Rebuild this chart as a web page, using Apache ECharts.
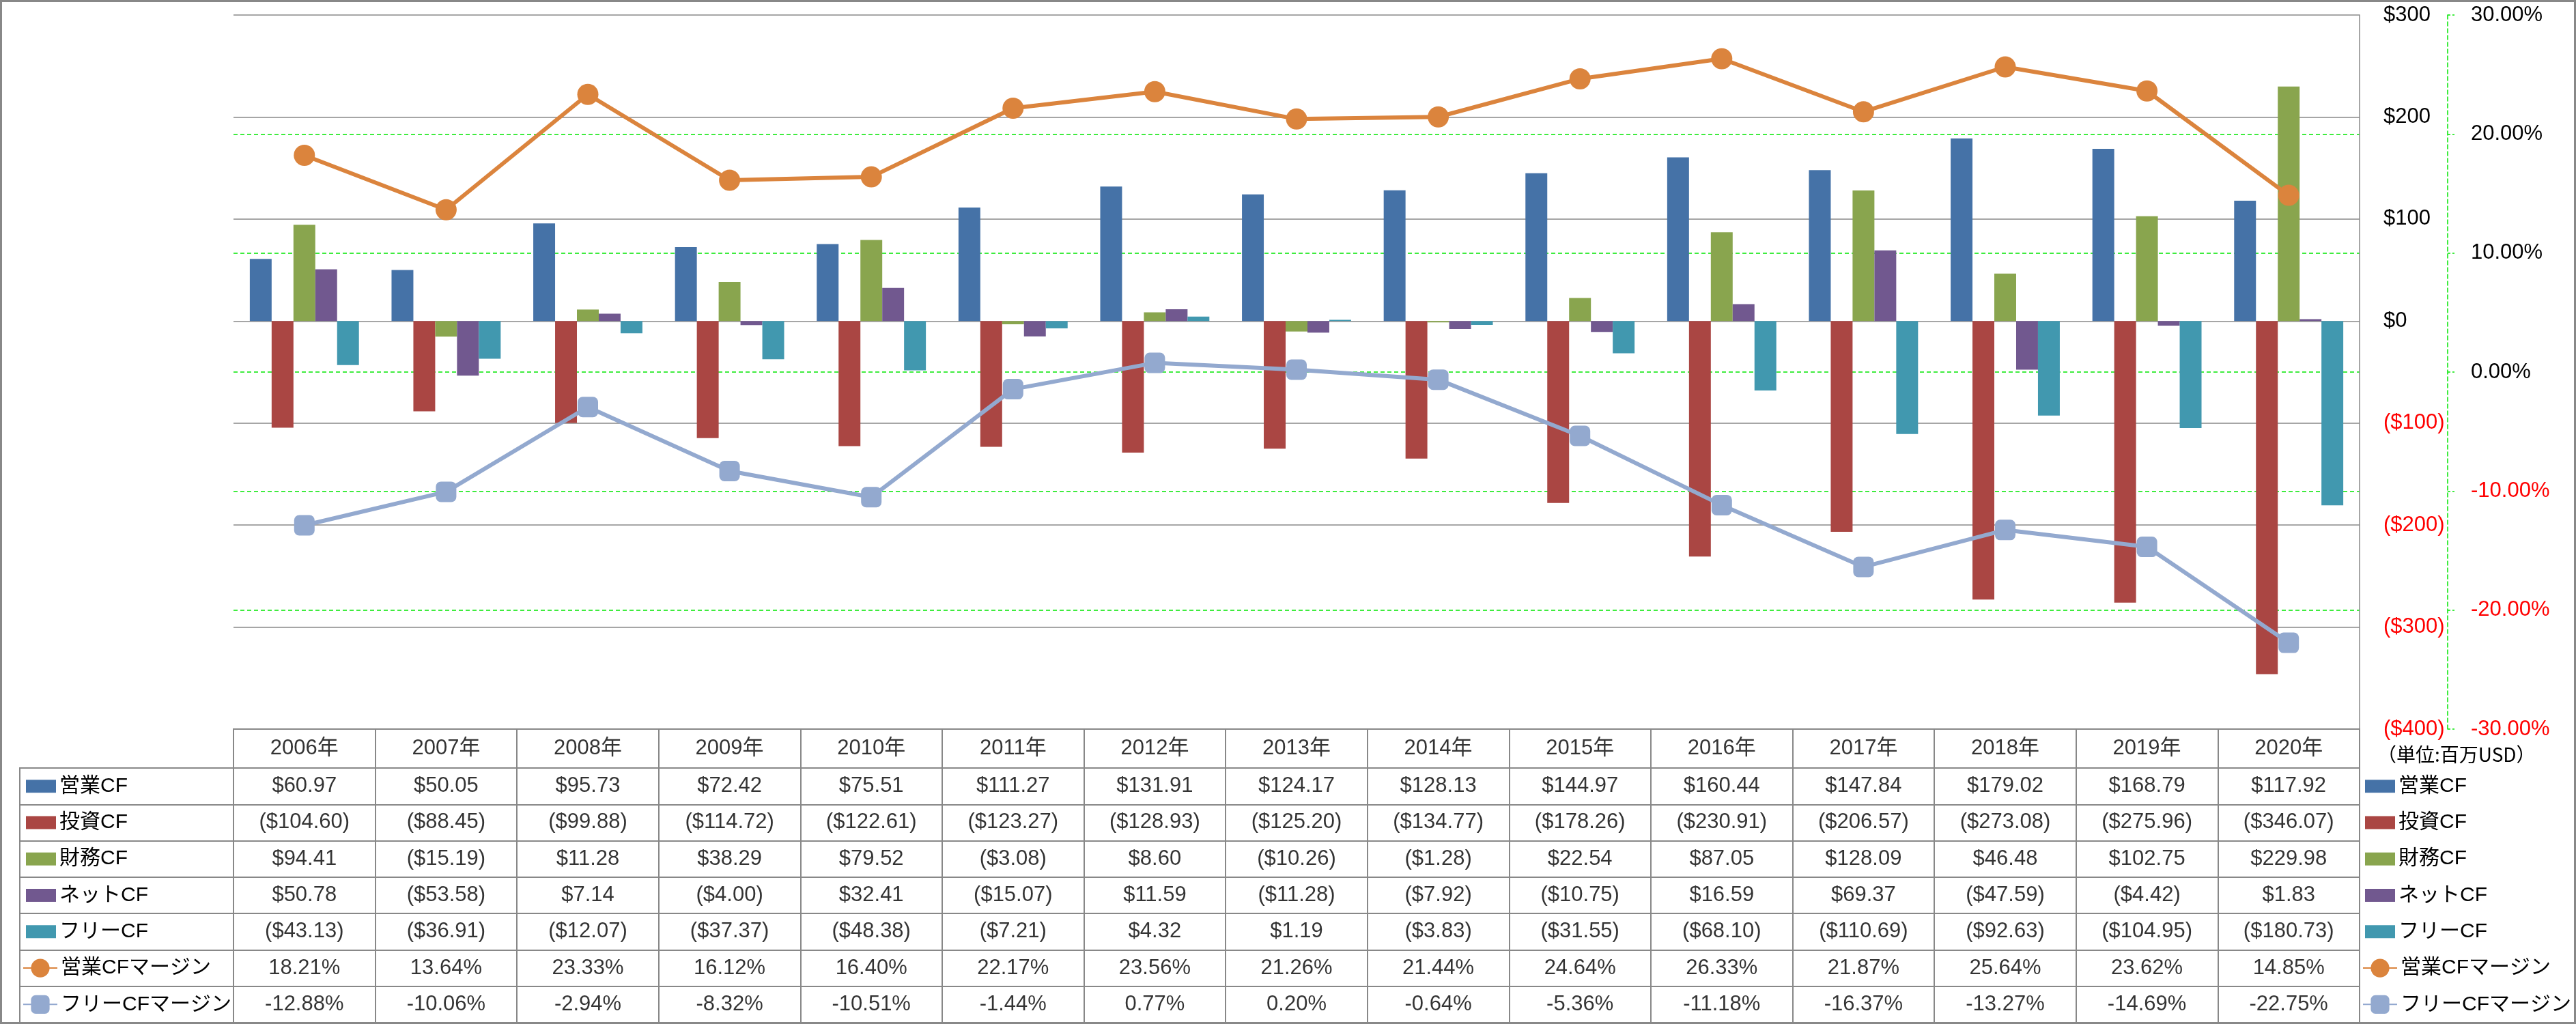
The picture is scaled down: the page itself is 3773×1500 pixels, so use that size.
<!DOCTYPE html>
<html><head><meta charset="utf-8">
<script src="https://cdn.jsdelivr.net/npm/echarts@6/dist/echarts.min.js"></script>
<style>html,body{margin:0;padding:0;background:#fff}#c{width:3773px;height:1500px}</style>
</head><body><div id="c"></div>
<script>
// ---- data ----
const years = ['2006年','2007年','2008年','2009年','2010年','2011年','2012年','2013年','2014年','2015年','2016年','2017年','2018年','2019年','2020年'];
const opCF   = [60.97,50.05,95.73,72.42,75.51,111.27,131.91,124.17,128.13,144.97,160.44,147.84,179.02,168.79,117.92];
const invCF  = [-104.60,-88.45,-99.88,-114.72,-122.61,-123.27,-128.93,-125.20,-134.77,-178.26,-230.91,-206.57,-273.08,-275.96,-346.07];
const finCF  = [94.41,-15.19,11.28,38.29,79.52,-3.08,8.60,-10.26,-1.28,22.54,87.05,128.09,46.48,102.75,229.98];
const netCF  = [50.78,-53.58,7.14,-4.00,32.41,-15.07,11.59,-11.28,-7.92,-10.75,16.59,69.37,-47.59,-4.42,1.83];
const freeCF = [-43.13,-36.91,-12.07,-37.37,-48.38,-7.21,4.32,1.19,-3.83,-31.55,-68.10,-110.69,-92.63,-104.95,-180.73];
const opMargin   = [18.21,13.64,23.33,16.12,16.40,22.17,23.56,21.26,21.44,24.64,26.33,21.87,25.64,23.62,14.85];
const freeMargin = [-12.88,-10.06,-2.94,-8.32,-10.51,-1.44,0.77,0.20,-0.64,-5.36,-11.18,-16.37,-13.27,-14.69,-22.75];
const barNames  = ['営業CF','投資CF','財務CF','ネットCF','フリーCF'];
const lineNames = ['営業CFマージン','フリーCFマージン'];
const dollarAxisLabels = ['($400)','($300)','($200)','($100)','$0','$100','$200','$300'];
const pctAxisLabels = ['-30.00%','-20.00%','-10.00%','0.00%','10.00%','20.00%','30.00%'];
const unitText = '（単位:百万USD）';

// ---- styles ----
const FONT = '"Liberation Sans", "Noto Sans CJK JP", sans-serif';
const GRAY = '#888888';
const GREENL = '#00e600';
const barColors = ['#4572A7','#AA4643','#89A54E','#71588F','#4198AF'];
const lineColors = ['#DB843D','#93A9CF'];
const barData = [opCF, invCF, finCF, netCF, freeCF];
const lineData = [opMargin, freeMargin];
const rowNames = barNames.concat(lineNames);
const rowVals = barData.concat(lineData);

function money(v){ return v < 0 ? '($' + (-v).toFixed(2) + ')' : '$' + v.toFixed(2); }
function pct(v){ return v.toFixed(2) + '%'; }
function cellText(r, c){ const v = rowVals[r][c]; return r < 5 ? money(v) : pct(v); }

const chart = echarts.init(document.getElementById('c'));

const series = [];
barData.forEach((d, i) => {
  series.push({
    name: barNames[i], type: 'bar', xAxisIndex: 0, yAxisIndex: 0, data: d,
    itemStyle: { color: barColors[i] }, barGap: '0%', barCategoryGap: '23%',
    silent: true
  });
});
lineData.forEach((d, i) => {
  series.push({
    name: lineNames[i], type: 'line', xAxisIndex: 0, yAxisIndex: 1, data: d,
    symbol: i === 0 ? 'circle' : 'roundRect', symbolSize: i === 0 ? 31 : 30,
    lineStyle: { color: lineColors[i], width: 6 },
    itemStyle: { color: lineColors[i] }, z: 5, silent: true
  });
});
// table header
series.push({
  type: 'scatter', xAxisIndex: 1, yAxisIndex: 2, silent: true,
  data: years.map((y, i) => [i, 0]), symbolSize: 1,
  itemStyle: { color: 'rgba(0,0,0,0)' },
  label: { show: true, position: 'inside', fontSize: 31, color: '#000', fontFamily: FONT,
           formatter: p => years[p.data[0]] }
});
// table body
const cells = [];
for (let r = 0; r < rowVals.length; r++) for (let c = 0; c < years.length; c++) cells.push([c, r]);
series.push({
  type: 'scatter', xAxisIndex: 2, yAxisIndex: 3, silent: true,
  data: cells, symbolSize: 1,
  itemStyle: { color: 'rgba(0,0,0,0)' },
  label: { show: true, position: 'inside', fontSize: 31, color: '#000', fontFamily: FONT,
           formatter: p => cellText(p.data[1], p.data[0]) }
});

const ROW_TOP = 1125, ROW_H = 373 / 7;
const legText = { fontSize: 30, color: '#000', fontFamily: FONT, lineHeight: ROW_H };
function legend(left, names, w, h, top, icon){
  const o = { orient: 'vertical', left: left, top: top, itemGap: 0, padding: 0,
    itemWidth: w, itemHeight: h, selectedMode: false, data: names, textStyle: legText };
  if (icon) o.icon = icon;
  return o;
}
const tblAxisLine = { show: true, interval: 0, lineStyle: { color: GRAY, width: 2 } };

chart.setOption({
  animation: false,
  backgroundColor: '#fff',
  textStyle: { fontFamily: FONT },
  grid: [
    { left: 342, right: 317, top: 22, height: 1046 },
    { left: 342, right: 317, top: 1068, height: 57, show: true, borderColor: GRAY, borderWidth: 2 },
    { left: 342, right: 317, top: 1125, height: 373, show: true, borderColor: GRAY, borderWidth: 2 },
    { left: 29, width: 313, top: 1125, height: 373, show: true, borderColor: GRAY, borderWidth: 2 }
  ],
  xAxis: [
    { type: 'category', gridIndex: 0, data: years, show: false },
    { type: 'category', gridIndex: 1, data: years, axisLine: { show: false }, axisTick: { show: false }, axisLabel: { show: false }, splitLine: tblAxisLine },
    { type: 'category', gridIndex: 2, data: years, axisLine: { show: false }, axisTick: { show: false }, axisLabel: { show: false }, splitLine: tblAxisLine },
    { type: 'value', gridIndex: 3, show: false }
  ],
  yAxis: [
    { type: 'value', gridIndex: 0, position: 'right', min: -400, max: 300, interval: 100,
      axisLine: { show: true, lineStyle: { color: GRAY, width: 1.5 } },
      axisTick: { show: false },
      axisLabel: { margin: 35, fontSize: 31, fontFamily: FONT,
        formatter: v => dollarAxisLabels[Math.round((v + 400) / 100)],
        color: v => (parseFloat(v) < 0 ? '#FF0000' : '#000000') },
      splitLine: { show: true, lineStyle: { color: GRAY, width: 1.5 } } },
    { type: 'value', gridIndex: 0, position: 'right', offset: 129, min: -30, max: 30, interval: 10,
      axisLine: { show: true, lineStyle: { color: GREENL, width: 1.5, type: [6, 4] } },
      axisTick: { show: true, inside: false, length: 10, lineStyle: { color: GREENL, width: 1.5, type: [4, 3] } },
      axisLabel: { margin: 34, fontSize: 31, fontFamily: FONT,
        formatter: v => pctAxisLabels[Math.round((v + 30) / 10)],
        color: v => (parseFloat(v) < 0 ? '#FF0000' : '#000000') },
      splitLine: { show: true, showMinLine: false, showMaxLine: false, lineStyle: { color: GREENL, width: 1.5, type: [6, 4] } } },
    { type: 'category', gridIndex: 1, data: ['h'], show: false },
    { type: 'category', gridIndex: 2, data: rowNames, inverse: true, axisLine: { show: false }, axisTick: { show: false }, axisLabel: { show: false }, splitLine: tblAxisLine },
    { type: 'category', gridIndex: 3, data: rowNames, inverse: true, axisLine: { show: false }, axisTick: { show: false }, axisLabel: { show: false }, splitLine: tblAxisLine }
  ],
  legend: [
    legend(38, barNames, 44, 19, ROW_TOP, 'rect'),
    legend(33, lineNames, 50, 34, ROW_TOP + 5 * ROW_H),
    legend(3464, barNames, 44, 19, ROW_TOP, 'rect'),
    legend(3460, lineNames, 50, 34, ROW_TOP + 5 * ROW_H)
  ],
  graphic: [
    { type: 'rect', silent: true, z: 100, shape: { x: 1.5, y: 1.5, width: 3770, height: 1497 },
      style: { fill: 'none', stroke: GRAY, lineWidth: 3 } },
    { type: 'text', left: 3482, top: 1091, silent: true,
      style: { text: unitText, fontSize: 28, fontFamily: '"Noto Sans CJK JP", sans-serif', fill: '#000' } }
  ],
  series: series
});
</script>
</body></html>
